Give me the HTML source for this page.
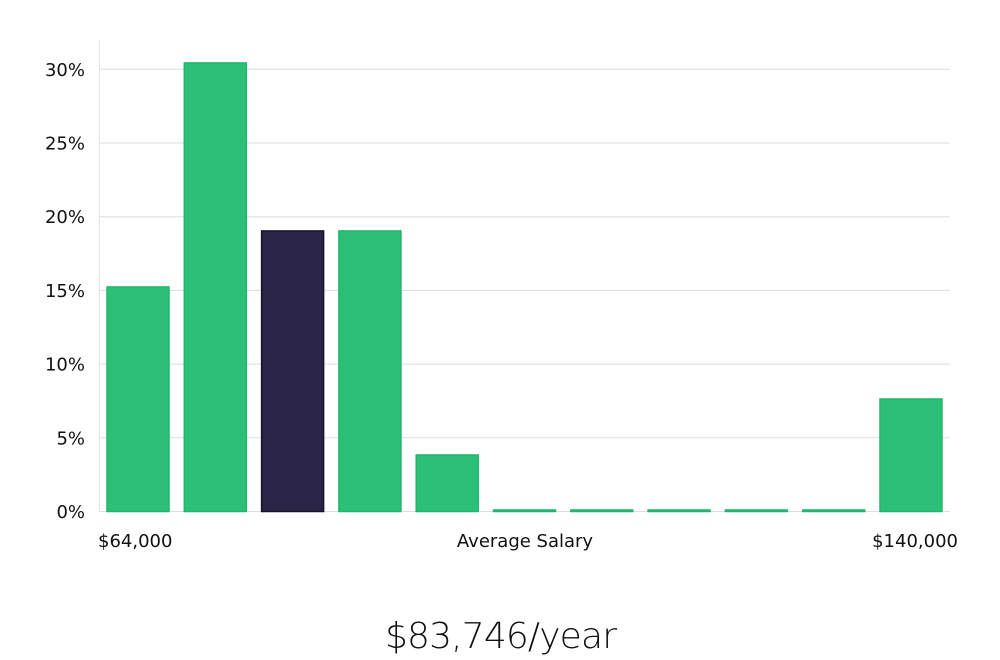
<!DOCTYPE html>
<html><head><meta charset="utf-8"><style>
body{margin:0;background:#fff;font-family:"DejaVu Sans","Liberation Sans",sans-serif;}
svg{display:block}
</style></head><body>
<svg width="1000" height="660" xmlns="http://www.w3.org/2000/svg">
<g id="grid"></g><g id="bars"></g><g id="yt"></g>
<line x1="99.5" y1="40" x2="99.5" y2="512" stroke="#e2e2e2"/>
<text x="98" y="547" font-size="18" fill="#111">$64,000</text>
<text x="525" y="547" font-size="18" fill="#111" text-anchor="middle">Average Salary</text>
<text x="958" y="547" font-size="18" fill="#111" text-anchor="end">$140,000</text>
<text x="501" y="648" font-size="36" fill="#111" text-anchor="middle" font-family="'DejaVu Sans','Liberation Sans',sans-serif" font-weight="300" textLength="232">$83,746/year</text>
</svg>
<script>
const values=[15.2,30.4,19.0,19.0,3.8,0,0,0,0,0,7.6];
const highlight=[false,false,true,false,false,false,false,false,false,false,false];
const ticks=[0,5,10,15,20,25,30];
const tickLabels=["0%","5%","10%","15%","20%","25%","30%"];
const NS="http://www.w3.org/2000/svg";
const y=v=>511-v*14.74;
const x=i=>107+i*77.3;
const g=document.getElementById('grid'),b=document.getElementById('bars'),t=document.getElementById('yt');
ticks.forEach((v,i)=>{
 const l=document.createElementNS(NS,'line');
 
 
 l.setAttribute('x1',99);l.setAttribute('x2',950);l.setAttribute('y1',y(v)+0.5);l.setAttribute('y2',y(v)+0.5);
 l.setAttribute('stroke','#dedede');g.appendChild(l);
 const tx=document.createElementNS(NS,'text');
 
 
 tx.setAttribute('x',85);tx.setAttribute('y',y(v)+7);tx.setAttribute('text-anchor','end');
 tx.setAttribute('font-size','18');tx.setAttribute('fill','#111');tx.textContent=tickLabels[i];t.appendChild(tx);
});
values.forEach((v,i)=>{
 const r=document.createElementNS(NS,'rect');
 
 
 const top=y(v),h=Math.max(1.5,511.5-top);
 r.setAttribute('x',x(i));r.setAttribute('y',511.5-h);r.setAttribute('width',62);r.setAttribute('height',h);
 r.setAttribute('fill',highlight[i]?'#2a2547':'#2bbf78');
 r.setAttribute('stroke',highlight[i]?'#15122e':'#22b56e');r.setAttribute('stroke-width','1.5');
 b.appendChild(r);
});
</script>
</body></html>
